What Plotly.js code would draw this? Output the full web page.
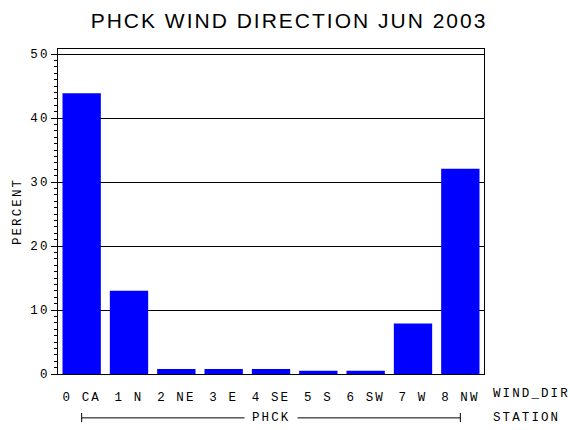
<!DOCTYPE html>
<html>
<head>
<meta charset="utf-8">
<script src="https://cdn.plot.ly/plotly-3.0.1.min.js"></script>
<style>
    html, body { margin: 0; padding: 0; background: #fff; }
    #chart { width: 570px; height: 430px; }
    /* the old SAS device font is widely tracked */
    .xtick text, .ytick text, .ytitle, .annotation-text { letter-spacing: 2.1px; }
    .gtitle { letter-spacing: 2px; }
</style>
</head>
<body>
<div id="chart"></div>
<script>
    const windDir = ["0 CA", "1 N", "2 NE", "3 E", "4 SE", "5 S", "6 SW", "7 W", "8 NW"];
    const percent = [43.9, 13.0, 0.8, 0.8, 0.8, 0.5, 0.5, 7.9, 32.1];
    const yTicks = [0, 10, 20, 30, 40, 50];
    const station = "PHCK";

    const MONO = "Liberation Mono, DejaVu Sans Mono, monospace";
    const tickFont = { family: MONO, size: 12.5, color: "#000" };

    const trace = {
        type: "bar", x: windDir, y: percent,
        marker: { color: "#0000ff", line: { width: 0 } },
        hoverinfo: "x+y",
    };

    const layout = {
        width: 570, height: 430,
        margin: { t: 49, r: 86, b: 56, l: 58 },
        paper_bgcolor: "#fff", plot_bgcolor: "#fff",
        showlegend: false, bargap: 0.19,
        title: {
            text: station + " WIND DIRECTION JUN 2003",
            font: { family: "Liberation Sans, Arial, sans-serif", size: 21, color: "#000" },
            xref: "container", x: 0.507, xanchor: "center",
            yref: "container", y: 1 - 21 / 430, yanchor: "middle",
        },
        xaxis: {
            type: "category", range: [-0.5, windDir.length - 0.5],
            showgrid: false, ticks: "", tickfont: tickFont, ticklabelstandoff: 11,
            showline: true, linecolor: "#000", linewidth: 1, mirror: true,
            zeroline: false, fixedrange: true,
        },
        yaxis: {
            range: [0, 50.8], tickvals: yTicks, ticktext: yTicks.map(String),
            showgrid: true, gridcolor: "#000", gridwidth: 1,
            ticks: "outside", ticklen: 6, tickcolor: "#000", tickwidth: 1,
            minor: { dtick: 1, ticks: "outside", ticklen: 3, tickcolor: "#000", tickwidth: 1, showgrid: false },
            tickfont: tickFont, ticklabelstandoff: -1,
            showline: true, linecolor: "#000", linewidth: 1, mirror: true,
            zeroline: false, fixedrange: true,
            title: { text: "PERCENT", font: tickFont, standoff: 5 },
        },
        shapes: [
            { type: "line", xref: "x", yref: "paper", x0: windDir[0], x1: windDir[windDir.length - 1], y0: -0.135, y1: -0.135, line: { color: "#000", width: 1 } },
            { type: "line", xref: "x", yref: "paper", x0: windDir[0], x1: windDir[0], y0: -0.12, y1: -0.148, line: { color: "#000", width: 1 } },
            { type: "line", xref: "x", yref: "paper", x0: windDir[windDir.length - 1], x1: windDir[windDir.length - 1], y0: -0.12, y1: -0.148, line: { color: "#000", width: 1 } },
        ],
        annotations: [
            { text: station, xref: "x", x: windDir[4], yref: "paper", y: -0.135, yanchor: "middle",
              showarrow: false, bgcolor: "#fff", borderpad: 7, font: tickFont },
            { text: "WIND_DIR", xref: "paper", x: 1, xanchor: "left", xshift: 7, yref: "paper", y: -0.0615, yanchor: "middle",
              showarrow: false, font: tickFont },
            { text: "STATION", xref: "paper", x: 1, xanchor: "left", xshift: 7, yref: "paper", y: -0.135, yanchor: "middle",
              showarrow: false, font: tickFont },
        ],
    };

    Plotly.newPlot("chart", [trace], layout, { displayModeBar: false, staticPlot: true });
</script>
</body>
</html>
